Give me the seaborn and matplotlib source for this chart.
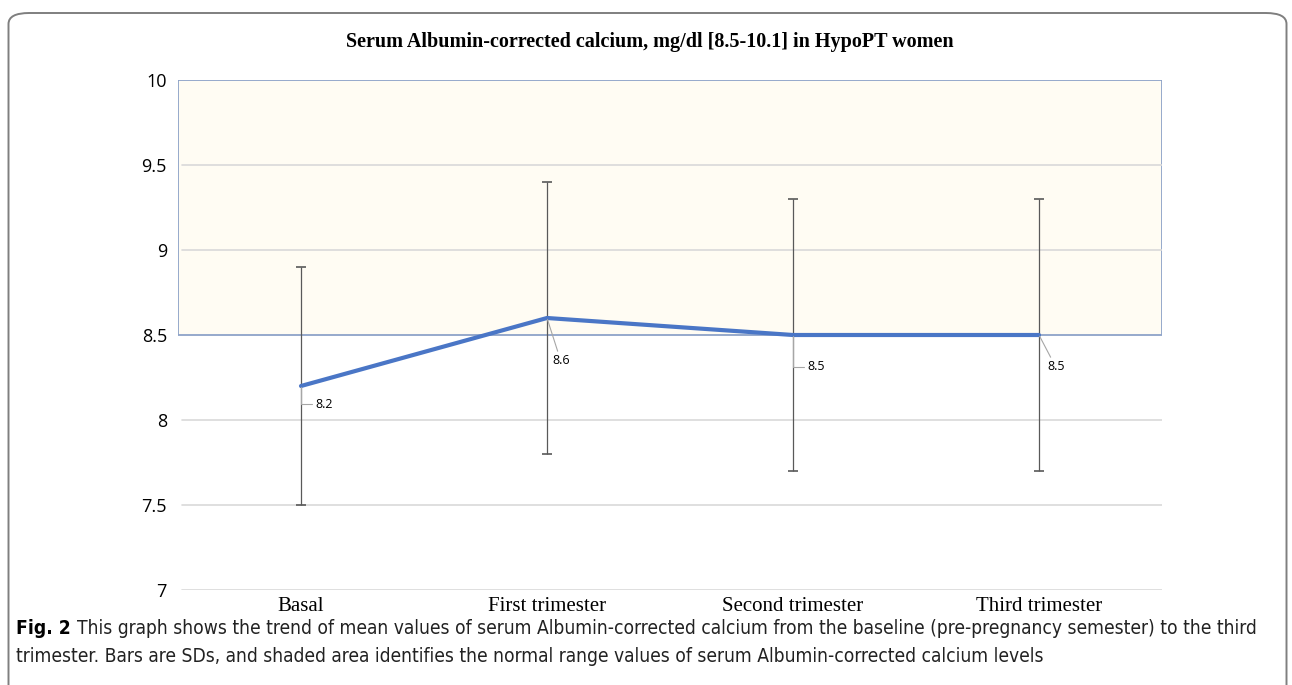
import matplotlib
matplotlib.use("Agg")
import matplotlib.pyplot as plt
import matplotlib.patches as mpatches
from matplotlib import font_manager
from matplotlib.font_manager import FontProperties
import seaborn as sns
import pandas as pd

categories = ["Basal", "First trimester", "Second trimester", "Third trimester"]
means = [8.2, 8.6, 8.5, 8.5]
sds = [0.7, 0.8, 0.8, 0.8]
normal_low, normal_high = 8.5, 10.1
yticks = [7, 7.5, 8, 8.5, 9, 9.5, 10]
ytick_labels = ["7", "7.5", "8", "8.5", "9", "9.5", "10"]
label_offsets = [(14, -18), (5, -43), (14, -32), (8, -32)]

sns.set_theme(style="white")
plt.rcParams["font.family"] = ["Open Sans", "DejaVu Sans"]

# find a condensed sans font for the caption, if any
cond = None
cond_bold = None
for f in font_manager.fontManager.ttflist:
    nm = f.name.lower()
    is_cond = (str(f.stretch) in ("condensed", "semi-condensed", "extra-condensed")
               or "narrow" in nm or "condensed" in nm or "condensed" in f.fname.lower())
    if is_cond and "serif" not in nm.replace("sans", "") and "mono" not in nm:
        w = f.weight if isinstance(f.weight, int) else (700 if "bold" in str(f.weight) else 400)
        if f.style == "normal":
            if w >= 600 and cond_bold is None:
                cond_bold = f.fname
            elif w < 600 and cond is None:
                cond = f.fname
if cond:
    cap_fp = FontProperties(fname=cond)
    capb_fp = FontProperties(fname=cond_bold) if cond_bold else FontProperties(fname=cond, weight="bold")
else:
    cap_fp = FontProperties(family="Open Sans")
    capb_fp = FontProperties(family="Open Sans", weight="bold")

df = pd.DataFrame({"phase": categories, "mean": means, "sd": sds})

fig = plt.figure(figsize=(12.92, 6.85), dpi=100)
ax = fig.add_axes([178/1292, 1-590/685, 984/1292, 510/685])

frame = mpatches.FancyBboxPatch((8.5/1292, -0.05), 1278/1292, 1 - 13/685 + 0.05,
                                boxstyle="round,pad=0,rounding_size=0.016",
                                transform=fig.transFigure, fill=False,
                                edgecolor="#7f7f7f", linewidth=1.4, clip_on=False)
fig.patches.append(frame)

ax.set_xlim(-0.5, 3.5)
ax.set_ylim(7, 10)

ax.axhspan(normal_low, min(normal_high, 10), facecolor="#FFFCF3",
           edgecolor="#8EA3C8", linewidth=1.3, zorder=0)
for y in [7, 7.5, 8, 9, 9.5]:
    ax.axhline(y, xmin=0.004, color="#D9D9D9", linewidth=1.2, zorder=0.5)

sns.lineplot(data=df, x="phase", y="mean", ax=ax, color="#4A76C6",
             linewidth=3, sort=False, zorder=3)
ax.errorbar(df["phase"], df["mean"], yerr=df["sd"], fmt="none",
            ecolor="#595959", elinewidth=0.9, capsize=3.5, capthick=1.2, zorder=2)

for i, (c, m) in enumerate(zip(categories, means)):
    dx, dy = label_offsets[i]
    cs = "angle,angleA=0,angleB=90,rad=0" if i in (0, 2) else "arc3"
    ax.annotate(f"{m}", xy=(i, m), xytext=(dx * 0.72, dy * 0.72),
                textcoords="offset points", fontsize=9, va="center", ha="left",
                color="black",
                arrowprops=dict(arrowstyle="-", color="#A6A6A6", lw=0.8,
                                connectionstyle=cs, shrinkA=0, shrinkB=1))

for s in ax.spines.values():
    s.set_visible(False)
ax.set_yticks(yticks)
ax.set_yticklabels(ytick_labels, fontsize=13, color="black")
ax.tick_params(axis="y", length=0, pad=8)
ax.tick_params(axis="x", length=0, pad=5)
ax.set_xticks(range(len(categories)))
ax.set_xticklabels(categories, fontsize=15, family="Liberation Serif", color="black")
ax.set_xlabel("")
ax.set_ylabel("")

fig.text(650/1292, 1-42/685, "Serum Albumin-corrected calcium, mg/dl [8.5-10.1] in HypoPT women",
         ha="center", va="center", fontsize=14.5, fontweight="bold",
         family="Liberation Serif", color="black")

cap1 = "This graph shows the trend of mean values of serum Albumin-corrected calcium from the baseline (pre-pregnancy semester) to the third"
cap2 = "trimester. Bars are SDs, and shaded area identifies the normal range values of serum Albumin-corrected calcium levels"

renderer = fig.canvas.get_renderer()
target = 1262 - 16
size = 13.0
for _ in range(3):
    capb_fp.set_size(size)
    cap_fp.set_size(size)
    t0 = fig.text(0, 0, "Fig. 2", fontproperties=capb_fp)
    t1 = fig.text(0, 0, cap1, fontproperties=cap_fp)
    w = t0.get_window_extent(renderer).width + 6 + t1.get_window_extent(renderer).width
    t0.remove(); t1.remove()
    size = size * target / w
capb_fp.set_size(size)
cap_fp.set_size(size)

t = fig.text(16/1292, 1-628/685, "Fig. 2", ha="left", va="center",
             fontproperties=capb_fp, color="black")
bb = t.get_window_extent(renderer)
fig.text((bb.x1 + 6)/1292, 1-628/685, cap1, ha="left", va="center",
         fontproperties=cap_fp, color="#222222")
fig.text(16/1292, 1-656/685, cap2, ha="left", va="center",
         fontproperties=cap_fp, color="#222222")

fig.savefig("out.png", dpi=100)
